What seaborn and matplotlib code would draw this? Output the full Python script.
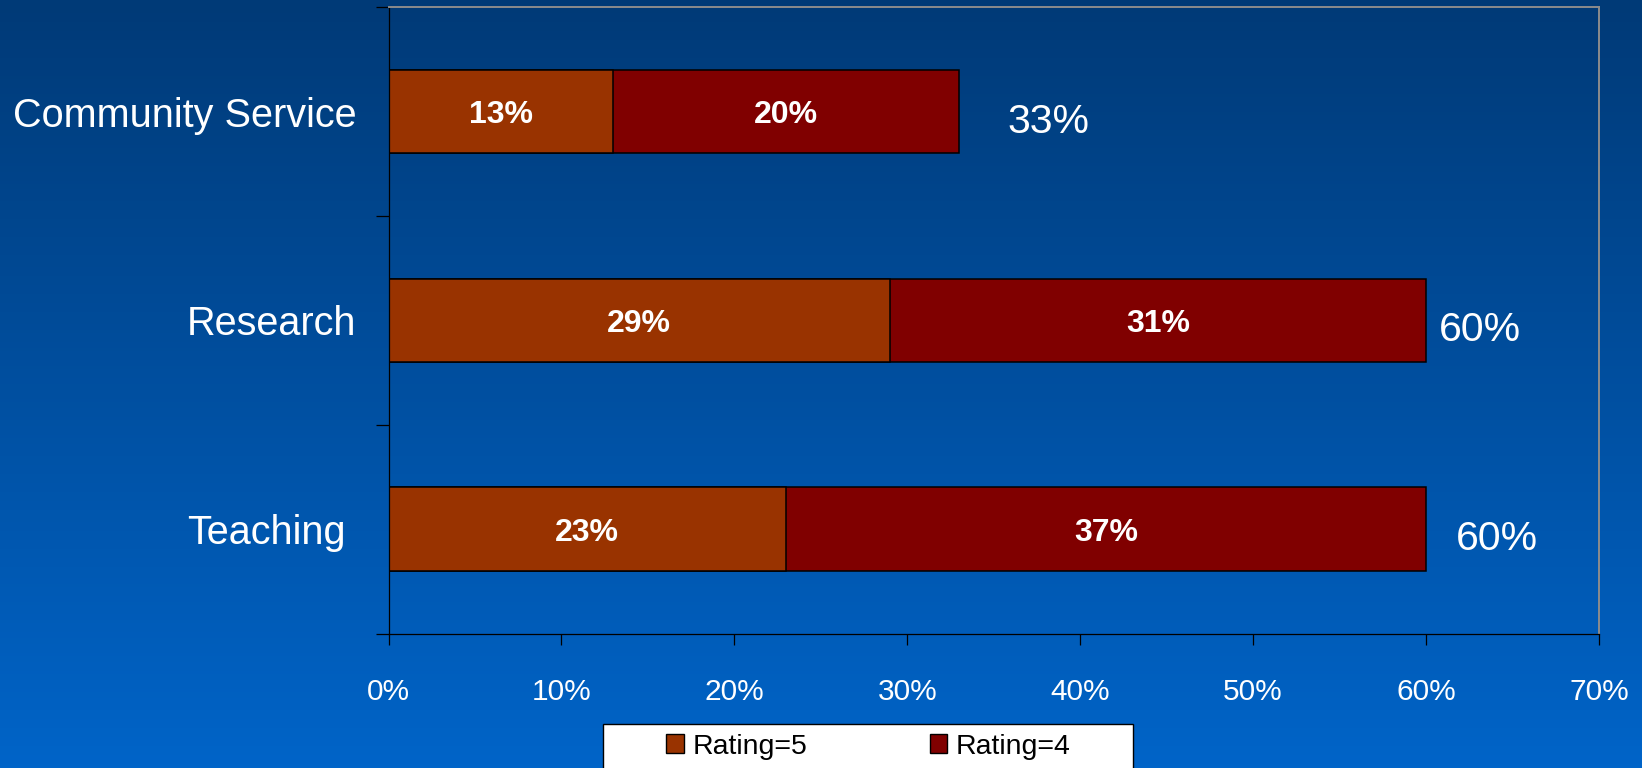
import matplotlib
matplotlib.use("Agg")
import matplotlib.pyplot as plt
import numpy as np
import seaborn as sns
from matplotlib.colors import LinearSegmentedColormap
from matplotlib.patches import Patch, Rectangle

# ---- data ----
categories = ["Community Service", "Research", "Teaching"]
rating5 = [13, 29, 23]
rating4 = [20, 31, 37]
totals = [33, 60, 60]
series_names = ["Rating=5", "Rating=4"]
x_ticks = [0, 10, 20, 30, 40, 50, 60, 70]
x_tick_labels = [f"{v}%" for v in x_ticks]

# ---- style ----
sns.set_style("ticks")
plt.rcParams["font.family"] = ["Liberation Sans", "DejaVu Sans"]

c5 = "#993300"
c4 = "#800000"

W, H, DPI = 1642, 768, 100
fig = plt.figure(figsize=(W / DPI, H / DPI), dpi=DPI)

# gradient background
bg = fig.add_axes([0, 0, 1, 1], zorder=-10)
cmap = LinearSegmentedColormap.from_list("bg", ["#003a77", "#0064c8"])
grad = np.linspace(0, 1, 256).reshape(-1, 1)
bg.imshow(grad, aspect="auto", cmap=cmap, extent=[0, 1, 1, 0])
bg.axis("off")

L, R, T, B = 388.5, 1599, 7.3, 633.5
ax = fig.add_axes([L / W, 1 - B / H, (R - L) / W, (B - T) / H])
ax.set_facecolor("none")

sns.barplot(x=totals, y=categories, orient="y", color=c4, saturation=1,
            width=0.4, edgecolor="black", linewidth=1.1, ax=ax)
sns.barplot(x=rating5, y=categories, orient="y", color=c5, saturation=1,
            width=0.4, edgecolor="black", linewidth=1.1, ax=ax)

ax.set_xlim(0, 70)
ax.set_ylim(2.5, -0.5)
ax.set_xlabel("")
ax.set_ylabel("")

# x axis
ax.set_xticks(x_ticks)
ax.set_xticklabels(x_tick_labels, color="white", fontsize=21.5)
ax.tick_params(axis="x", length=8, width=0.9, color="black", pad=24)

# y axis: ticks at boundaries, labels at centers
ax.set_yticks([-0.5, 0.5, 1.5, 2.5])
ax.set_yticklabels([])
ax.set_yticks([0, 1, 2], minor=True)
ax.set_yticklabels(categories, minor=True, color="white", fontsize=28.5)
ax.tick_params(axis="y", which="major", length=9.4, width=0.9, color="black")
ax.tick_params(axis="y", which="minor", length=0, pad=23)
ax.yaxis.get_minor_ticks()[2].set_pad(31)

for side in ["left", "bottom"]:
    ax.spines[side].set_color("black")
    ax.spines[side].set_linewidth(0.9)
for side in ["top", "right"]:
    ax.spines[side].set_visible(True)
    ax.spines[side].set_color("#8c8c8c")
    ax.spines[side].set_linewidth(1.4)

# segment labels
for i in range(len(categories)):
    ax.text(rating5[i] / 2, i, f"{rating5[i]}%", ha="center", va="center_baseline",
            color="white", fontsize=23, fontweight="bold")
    ax.text(rating5[i] + rating4[i] / 2, i, f"{rating4[i]}%", ha="center",
            va="center_baseline", color="white", fontsize=23, fontweight="bold")

# total labels (offsets in pixels from bar end)
total_offsets = [48, 13, 30]
for i in range(len(categories)):
    ax.annotate(f"{totals[i]}%", xy=(totals[i], i), xytext=(total_offsets[i], -6),
                textcoords="offset pixels", ha="left", va="center_baseline",
                color="white", fontsize=29.5)

# legend box
fig.add_artist(Rectangle((603 / W, 1 - 800 / H), (1133 - 603) / W, (800 - 724) / H,
                         transform=fig.transFigure, facecolor="white",
                         edgecolor="black", linewidth=1.0, zorder=5))
handles = [Patch(facecolor=c5, edgecolor="black", linewidth=1.0),
           Patch(facecolor=c4, edgecolor="black", linewidth=1.0)]
leg = fig.legend(handles, series_names, loc="center left",
                 bbox_to_anchor=(666 / W, 1 - 746.5 / H), ncol=2, frameon=False,
                 fontsize=20.5, handlelength=0.62, handleheight=0.62,
                 handletextpad=0.3, columnspacing=4.3, borderpad=0,
                 borderaxespad=0, labelcolor="black")
leg.set_zorder(6)

fig.savefig("out.png", dpi=DPI)
